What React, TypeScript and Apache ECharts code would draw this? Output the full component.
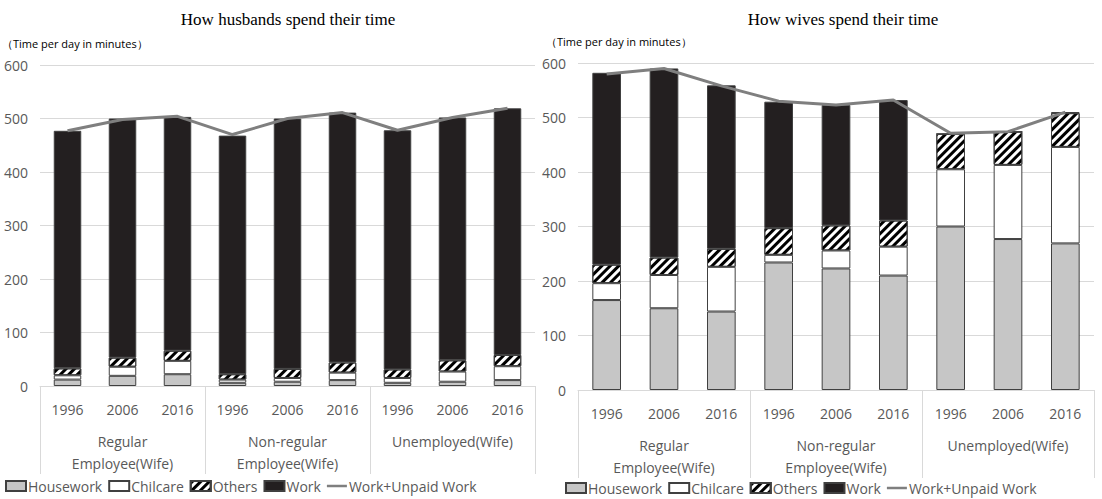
import React, { useEffect, useRef } from "react";
import * as echarts from "echarts";

const years = ["1996", "2006", "2016", "1996", "2006", "2016", "1996", "2006", "2016"];
const groups = ["Regular\nEmployee(Wife)", "Non-regular\nEmployee(Wife)", "Unemployed(Wife)"];

const hHouse = [12, 19, 22, 6, 8, 11, 6, 8, 11];
const hChild = [8, 17, 25, 6, 7, 14, 9, 19, 26];
const hOther = [13, 17, 19, 10, 17, 19, 16, 21, 21];
const hWork = [444, 447, 437, 446, 468, 467, 447, 454, 461];
const hTotal = [477, 498, 504, 470, 500, 511, 478, 502, 519];

const wHouse = [165, 150, 144, 234, 223, 210, 300, 277, 269];
const wChild = [31, 61, 82, 14, 33, 53, 105, 136, 177];
const wOther = [34, 32, 33, 49, 46, 48, 65, 61, 62];
const wWork = [352, 347, 300, 232, 221, 221, 0, 0, 2];
const wTotal = [580, 590, 558, 530, 523, 532, 471, 474, 510];

const FONT = "'Open Sans', 'Liberation Sans', sans-serif";
const GRAY = "#595959";

export default function App() {
  const ref = useRef<HTMLDivElement>(null);
  useEffect(() => {
    const chart = echarts.init(ref.current!, undefined, { renderer: "svg" });
    const decal = {
      symbol: "rect",
      color: "#000",
      dashArrayX: [1, 0],
      dashArrayY: [3, 3],
      rotation: -Math.PI / 4,
      symbolSize: 1,
    };
    const makeSeries = (idx: number, d: number[][], tot: number[]) => [
      { name: "Housework", type: "bar", stack: "s" + idx, xAxisIndex: idx * 2, yAxisIndex: idx, data: d[0], barWidth: "50%", itemStyle: { color: "#c6c6c6", borderColor: "#404040", borderWidth: 1 } },
      { name: "Chilcare", type: "bar", stack: "s" + idx, xAxisIndex: idx * 2, yAxisIndex: idx, data: d[1], itemStyle: { color: "#fff", borderColor: "#404040", borderWidth: 1 } },
      { name: "Others", type: "bar", stack: "s" + idx, xAxisIndex: idx * 2, yAxisIndex: idx, data: d[2], itemStyle: { color: "#fff", borderColor: "#404040", borderWidth: 1, decal } },
      { name: "Work", type: "bar", stack: "s" + idx, xAxisIndex: idx * 2, yAxisIndex: idx, data: d[3], itemStyle: { color: "#231f20", borderColor: "#404040", borderWidth: 1 } },
      { name: "Work+Unpaid Work", type: "line", xAxisIndex: idx * 2, yAxisIndex: idx, data: tot, symbol: "none", lineStyle: { color: "#7f7f7f", width: 3 }, itemStyle: { color: "#7f7f7f" } },
    ];
    const grids = [
      { left: 40, right: 567, top: 65, bottom: 113 },
      { left: 578, right: 8, top: 63, bottom: 109 },
    ];
    const xAxes: any[] = [];
    const yAxes: any[] = [];
    [0, 1].forEach((g) => {
      xAxes.push({
        type: "category", gridIndex: g, data: years, position: "bottom",
        axisLine: { lineStyle: { color: "#d9d9d9" } }, axisTick: { show: false },
        axisLabel: { color: GRAY, fontSize: 14, fontFamily: FONT, margin: 16 },
      });
      xAxes.push({
        type: "category", gridIndex: g, data: groups, position: "bottom",
        axisLine: { show: false },
        axisTick: { show: true, length: 88, interval: 0, lineStyle: { color: "#d9d9d9" } },
        axisLabel: { color: GRAY, fontSize: 14, fontFamily: FONT, margin: 44, lineHeight: 22, verticalAlign: "top" },
      });
      yAxes.push({
        type: "value", gridIndex: g, min: 0, max: 600, interval: 100,
        axisLine: { show: false }, axisTick: { show: false },
        splitLine: { lineStyle: { color: "#d9d9d9" } },
        axisLabel: { color: GRAY, fontSize: 14, fontFamily: FONT, margin: 12 },
      });
    });
    const legendBase = {
      itemWidth: 20, itemHeight: 10, itemGap: 6,
      textStyle: { color: GRAY, fontSize: 14, fontFamily: FONT, padding: [0, 0, 0, -3] },
      data: [
        { name: "Housework", icon: "rect" }, { name: "Chilcare", icon: "rect" }, { name: "Others", icon: "rect" },
        { name: "Work", icon: "rect" }, { name: "Work+Unpaid Work", icon: "path://M0,4 L20,4 L20,6.5 L0,6.5 Z" },
      ],
      selectedMode: false,
    };
    chart.setOption({
      animation: false,
      title: [
        { text: "How husbands spend their time", left: 283, top: 6, textAlign: "center", textStyle: { fontFamily: "'Liberation Serif', serif", fontSize: 17, fontWeight: "normal", color: "#000" } },
        { text: "How wives spend their time", left: 838, top: 6, textAlign: "center", textStyle: { fontFamily: "'Liberation Serif', serif", fontSize: 17, fontWeight: "normal", color: "#000" } },
      ],
      graphic: [
        { type: "text", left: 2, top: 38, style: { text: "（Time per day in minutes）", fontSize: 11, fontFamily: FONT, fill: "#000" } },
        { type: "text", left: 546, top: 36, style: { text: "（Time per day in minutes）", fontSize: 11, fontFamily: FONT, fill: "#000" } },
      ],
      legend: [
        { ...legendBase, left: 0, top: 474 },
        { ...legendBase, left: 560, top: 476 },
      ],
      grid: grids,
      xAxis: xAxes,
      yAxis: yAxes,
      series: [
        ...makeSeries(0, [hHouse, hChild, hOther, hWork], hTotal),
        ...makeSeries(1, [wHouse, wChild, wOther, wWork], wTotal),
      ],
    });
    return () => chart.dispose();
  }, []);
  return <div ref={ref} style={{ position: "absolute", left: 0, top: 0, width: 1102, height: 499 }} />;
}
